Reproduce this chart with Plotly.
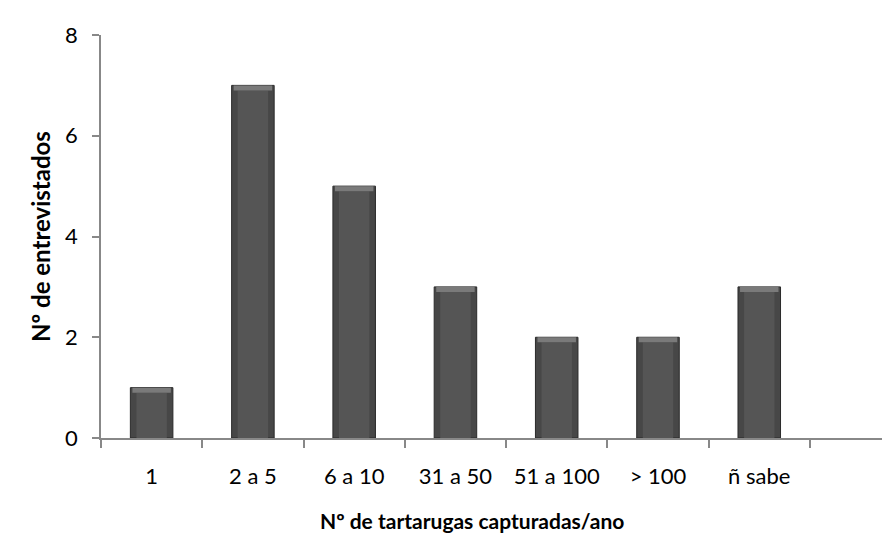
import plotly.graph_objects as go

categories = ["1", "2 a 5", "6 a 10", "31 a 50", "51 a 100", "> 100", "ñ sabe"]
values = [1, 7, 5, 3, 2, 2, 3]
all_slots = categories + [" "]
y_ticks = [0, 2, 4, 6, 8]

x_title = "Nº de tartarugas capturadas/ano"
y_title = "Nº de entrevistados"

FONT = "Lato"
bevel = 0.1

fig = go.Figure()
# main bar body
fig.add_trace(go.Bar(
    x=categories, y=values, width=0.42,
    marker=dict(color="#474747", line=dict(color="#2a2a2a", width=1)),
    hoverinfo="skip", showlegend=False,
))
# inner lighter body (gradient feel)
fig.add_trace(go.Bar(
    x=categories, y=[v - bevel for v in values], width=0.3,
    marker=dict(color="#555555", line=dict(width=0)),
    hoverinfo="skip", showlegend=False,
))
# top bevel highlight
fig.add_trace(go.Bar(
    x=categories, y=[bevel] * len(values), base=[v - bevel for v in values], width=0.38,
    marker=dict(color="#7a7a7a", line=dict(width=0)),
    hoverinfo="skip", showlegend=False,
))

fig.update_layout(
    width=890, height=536,
    margin=dict(l=93, r=0, t=27, b=106),
    paper_bgcolor="white", plot_bgcolor="white",
    barmode="overlay",
    font=dict(family=FONT, size=22, color="#000000"),
    xaxis=dict(
        type="category", categoryorder="array", categoryarray=all_slots,
        range=[-0.5, 7.37],
        tickson="boundaries", ticks="outside", ticklen=8, tickwidth=1.5, tickcolor="#888888",
        showline=True, linecolor="#888888", linewidth=1.5,
        showgrid=False, zeroline=False,
        ticklabelstandoff=18,
    ),
    yaxis=dict(
        range=[0, 8], tickvals=y_ticks,
        ticks="outside", ticklen=7, tickwidth=1.5, tickcolor="#888888",
        showline=True, linecolor="#888888", linewidth=1.5,
        showgrid=False, zeroline=False,
        ticklabelstandoff=10,
        title=dict(text="<b>" + y_title + "</b>", font=dict(family=FONT, size=24), standoff=8),
    ),
    annotations=[dict(
        text="<b>" + x_title + "</b>", xref="paper", yref="paper",
        x=0.465, y=-0.205, xanchor="center", yanchor="middle",
        showarrow=False, font=dict(family=FONT, size=21, color="#000000"),
    )],
)

fig.write_html("out.html")
